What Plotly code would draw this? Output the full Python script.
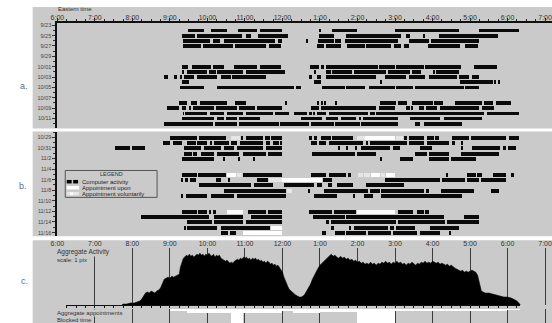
import plotly.graph_objects as go

W, H = 552, 323
GRAY = "#cacaca"
FONT = "Liberation Sans, Arial, sans-serif"

# ---------------- data ----------------
hour_ticks = [6, 7, 8, 9, 10, 11, 12, 13, 14, 15, 16, 17, 18, 19]
hour_labels = ["6:00", "7:00", "8:00", "9:00", "10:00", "11:00", "12:00",
               "1:00", "2:00", "3:00", "4:00", "5:00", "6:00", "7:00"]

a_dates = ["9/23", "9/25", "9/27", "9/29", "10/01", "10/03", "10/05", "10/07", "10/09", "10/11"]
a_date_rows = [-1, 1, 3, 5, 7, 9, 11, 13, 15, 17]
b_dates = ["10/29", "10/31", "11/2", "11/4", "11/6", "11/8", "11/10", "11/12", "11/14", "11/16"]
b_date_rows = [0, 2, 4, 6, 8, 10, 12, 14, 16, 18]

# panel a: computer activity sessions per day row (start hour, end hour)
a_rows = [0, 1, 2, 3, 7, 8, 9, 10, 11, 14, 15, 16, 17, 18]
a_bars = [
    [(9.50, 9.92), (10.10, 10.53), (10.82, 11.32), (11.42, 12.00), (13.00, 13.04), (13.32, 14.00), (15.00, 16.71), (17.26, 18.32)],
    [(9.32, 9.68), (9.72, 10.92), (11.03, 11.18), (11.37, 12.16), (12.97, 13.39), (13.71, 15.16), (15.29, 15.42), (15.78, 15.82), (16.18, 17.76)],
    [(9.37, 10.08), (10.16, 10.34), (10.45, 11.82), (11.88, 12.00), (12.65, 12.69), (12.95, 13.37), (13.42, 13.58), (13.68, 15.08), (15.37, 15.92), (15.97, 17.24)],
    [(9.37, 9.84), (9.89, 10.68), (10.74, 11.58), (11.66, 11.97), (12.92, 13.11), (13.18, 13.58), (13.74, 14.21), (14.24, 14.89), (14.97, 15.16), (15.24, 15.39), (15.89, 16.74), (16.87, 17.21)],
    [(9.32, 9.50), (9.61, 10.11), (10.16, 10.45), (10.71, 11.32), (11.42, 11.97), (12.74, 12.97), (13.03, 13.11), (13.18, 14.55), (14.58, 15.00), (15.03, 15.79), (15.82, 16.76), (17.11, 17.74)],
    [(9.34, 9.37), (9.47, 10.00), (10.05, 10.24), (10.26, 10.97), (11.03, 12.08), (12.87, 12.90), (13.16, 13.29), (13.34, 13.87), (13.92, 14.76), (14.82, 15.42), (15.47, 15.71), (16.03, 16.06), (16.10, 16.71)],
    [(8.84, 8.95), (9.13, 9.21), (9.29, 9.34), (9.39, 9.66), (9.74, 10.26), (10.37, 10.63), (10.66, 11.58), (12.71, 12.79), (12.92, 13.03), (13.18, 14.50), (14.74, 15.29), (15.37, 15.82), (15.92, 16.66), (16.71, 16.97), (17.05, 17.26)],
    [(9.34, 9.53), (12.84, 13.03), (14.62, 14.65), (16.74, 17.63), (17.66, 17.71), (17.76, 17.79)],
    [(9.29, 9.92), (10.26, 11.24), (11.26, 12.32), (12.37, 12.50), (13.05, 13.68), (13.71, 14.21), (14.32, 15.00), (15.03, 15.50), (15.55, 16.84), (16.87, 17.26)],
    [(9.24, 9.47), (9.58, 9.74), (9.82, 10.53), (10.74, 11.03), (12.10, 12.13), (12.95, 12.98), (13.05, 13.08), (13.12, 13.15), (13.42, 13.45), (14.61, 15.03), (15.08, 15.32), (15.47, 16.03), (16.05, 16.29), (16.61, 17.34), (17.39, 17.63), (17.71, 18.10)],
    [(8.92, 9.26), (9.32, 9.45), (9.53, 9.56), (9.63, 10.18), (10.24, 10.79), (10.84, 11.29), (11.34, 12.00), (12.76, 12.97), (13.03, 13.45), (13.47, 14.50), (14.58, 15.00), (15.29, 15.42), (15.45, 15.48), (15.66, 15.79), (15.84, 16.13), (16.21, 17.24), (17.32, 17.66)],
    [(9.36, 9.38), (9.40, 10.00), (10.08, 10.45), (10.53, 10.97), (11.03, 11.16), (11.18, 11.76), (11.82, 12.18), (12.32, 12.66), (12.71, 12.79), (12.84, 12.87), (12.92, 13.18), (13.24, 14.29), (14.34, 14.47), (14.50, 17.37), (17.45, 18.32)],
    [(9.34, 10.18), (10.26, 10.45), (10.50, 10.79), (10.84, 11.42), (12.50, 13.05), (13.16, 13.50), (13.58, 13.97), (14.05, 14.10), (14.16, 15.08), (15.40, 16.21), (16.32, 17.32)],
    [(8.84, 10.16), (10.21, 10.79), (10.84, 11.92), (11.95, 12.71), (12.76, 13.37), (13.42, 14.08), (14.11, 15.08), (15.53, 15.68), (15.79, 16.79)],
]

# panel b: sessions with kind  c = computer activity, u = appointment upon, v = appointment voluntarily
b_rows = [0, 1, 2, 3, 4, 7, 8, 9, 10, 11, 14, 15, 16, 17, 18]
b_bars = [
    [(9.00, 9.74, "c"), (9.79, 10.50, "c"), (10.63, 10.87, "v"), (10.92, 10.97, "c"), (11.03, 11.50, "c"), (11.55, 11.68, "c"), (11.71, 12.00, "c"), (12.71, 12.79, "c"), (12.84, 12.92, "c"), (13.03, 13.29, "c"), (13.34, 13.89, "c"), (14.00, 14.21, "v"), (14.21, 15.00, "u"), (15.03, 15.21, "v"), (15.26, 15.34, "c"), (15.39, 15.79, "c"), (15.87, 16.05, "c"), (16.08, 16.18, "c"), (16.53, 16.97, "c"), (17.03, 17.97, "c"), (18.05, 18.32, "c")],
    [(8.82, 9.00, "c"), (9.08, 9.34, "c"), (9.47, 9.71, "c"), (9.74, 10.00, "c"), (10.08, 10.13, "c"), (10.18, 10.58, "c"), (10.63, 10.79, "c"), (10.89, 11.50, "c"), (11.58, 11.68, "c"), (11.76, 11.92, "c"), (11.95, 12.00, "c"), (12.76, 12.92, "c"), (12.97, 13.18, "c"), (13.26, 14.16, "c"), (14.24, 14.29, "c"), (14.34, 15.34, "c"), (15.39, 15.79, "c"), (15.87, 16.45, "c"), (16.53, 16.60, "c"), (16.78, 16.81, "c")],
    [(7.55, 7.95, "c"), (8.00, 8.34, "c"), (9.39, 9.84, "c"), (9.92, 10.37, "c"), (10.45, 10.71, "c"), (10.79, 11.50, "c"), (11.58, 12.00, "c"), (13.50, 13.53, "c"), (13.71, 13.74, "c"), (13.95, 13.98, "c"), (14.10, 14.87, "c"), (14.95, 15.13, "c"), (15.68, 16.00, "c"), (16.79, 16.82, "c"), (17.05, 17.82, "c"), (17.89, 17.97, "c"), (18.03, 18.24, "c")],
    [(9.39, 9.61, "c"), (9.63, 9.74, "c"), (9.84, 10.18, "c"), (10.26, 10.84, "c"), (10.97, 11.58, "c"), (11.63, 12.00, "c"), (12.79, 13.95, "c"), (14.00, 14.50, "c"), (15.55, 15.87, "c"), (15.92, 16.45, "c"), (16.76, 17.79, "c")],
    [(9.34, 10.18, "c"), (10.45, 10.48, "c"), (10.84, 10.87, "c"), (11.24, 11.27, "c"), (14.63, 14.66, "c"), (15.13, 15.50, "c"), (15.92, 16.45, "c"), (16.50, 17.18, "c")],
    [(9.32, 9.74, "c"), (9.76, 10.50, "c"), (10.53, 10.76, "u"), (10.79, 10.92, "v"), (10.97, 12.00, "c"), (12.76, 13.16, "c"), (13.24, 13.71, "c"), (13.76, 13.84, "c"), (14.03, 14.16, "v"), (14.18, 14.34, "v"), (14.37, 14.61, "u"), (14.63, 14.74, "v"), (14.76, 15.00, "u"), (16.39, 16.42, "c"), (16.92, 17.18, "c"), (17.20, 17.32, "c"), (17.63, 17.97, "c"), (18.10, 18.18, "c")],
    [(9.32, 9.37, "c"), (9.42, 9.50, "c"), (9.55, 9.71, "c"), (10.24, 10.37, "c"), (10.58, 10.61, "c"), (11.32, 11.63, "c"), (11.66, 12.00, "v"), (12.00, 13.05, "u"), (13.08, 13.34, "c"), (14.74, 16.21, "c"), (16.26, 16.87, "c"), (16.92, 17.24, "c"), (17.29, 17.97, "c")],
    [(9.79, 11.18, "c"), (11.24, 11.76, "c"), (12.05, 12.84, "c"), (12.92, 13.05, "c"), (13.21, 13.34, "c"), (13.47, 13.89, "c"), (14.24, 15.26, "c")],
    [(10.45, 11.16, "c"), (11.18, 12.10, "c"), (12.13, 12.26, "v"), (12.71, 12.74, "c"), (13.11, 14.29, "c"), (14.34, 14.61, "c"), (14.63, 15.79, "c"), (15.84, 15.92, "c"), (16.24, 17.11, "c"), (17.58, 17.79, "c")],
    [(9.32, 9.35, "c"), (9.45, 10.00, "c"), (10.10, 10.71, "c"), (10.79, 12.10, "c"), (12.84, 13.45, "c"), (13.91, 13.94, "c"), (14.18, 14.42, "c"), (14.63, 16.79, "c")],
    [(9.32, 9.74, "c"), (9.76, 10.00, "c"), (10.05, 10.11, "c"), (10.16, 10.24, "c"), (10.53, 10.97, "u"), (11.10, 11.58, "c"), (11.63, 12.00, "c"), (12.71, 13.32, "c"), (13.37, 13.97, "c"), (14.00, 15.00, "u"), (15.08, 15.50, "c"), (15.60, 15.79, "c"), (15.82, 15.92, "c")],
    [(8.24, 10.05, "c"), (10.18, 10.97, "c"), (11.16, 12.00, "c"), (12.82, 13.68, "c"), (13.71, 16.32, "c"), (16.84, 17.26, "c")],
    [(9.47, 10.13, "c"), (10.18, 10.97, "c"), (11.05, 12.00, "c"), (13.16, 13.24, "c"), (13.29, 15.03, "c"), (15.08, 16.34, "c"), (16.39, 17.24, "c")],
    [(9.39, 9.42, "c"), (9.47, 10.26, "c"), (10.37, 11.16, "c"), (11.18, 11.68, "c"), (11.71, 12.00, "u"), (13.30, 13.37, "c"), (13.80, 13.83, "c"), (13.92, 14.82, "c"), (14.87, 14.97, "c"), (15.03, 15.53, "c"), (15.95, 16.71, "c")],
    [(10.37, 10.55, "c"), (10.60, 10.76, "c"), (10.97, 12.00, "u"), (13.05, 13.16, "c"), (13.42, 13.68, "c"), (13.71, 14.24, "c"), (14.29, 14.89, "c"), (14.95, 15.60, "c"), (15.68, 16.21, "c"), (16.45, 16.48, "c")],
]

# panel c: aggregate activity (pixels of height) over the day
activity_time = [7.72, 7.75, 7.85, 7.95, 8.05, 8.15, 8.20, 8.25, 8.30, 8.35, 8.40, 8.45, 8.50, 8.55, 8.60, 8.65, 8.70, 8.75, 8.80, 8.85,
                 8.90, 8.95, 9.00, 9.05, 9.10, 9.15, 9.20, 9.25, 9.28, 9.32, 9.36, 9.39, 9.44, 9.48, 9.52, 9.56, 9.60, 9.64, 9.68, 9.72,
                 9.76, 9.80, 9.84, 9.88, 9.92, 9.96, 10.00, 10.04, 10.08, 10.12, 10.16, 10.20, 10.24, 10.28, 10.32, 10.36, 10.40, 10.44, 10.48, 10.52,
                 10.56, 10.60, 10.64, 10.68, 10.72, 10.76, 10.80, 10.84, 10.88, 10.92, 10.96, 11.00, 11.04, 11.08, 11.12, 11.16, 11.20, 11.24, 11.28, 11.32,
                 11.36, 11.40, 11.44, 11.48, 11.52, 11.56, 11.60, 11.64, 11.68, 11.72, 11.76, 11.80, 11.84, 11.88, 11.92, 11.96, 12.00, 12.04, 12.08, 12.12,
                 12.16, 12.20, 12.25, 12.30, 12.35, 12.40, 12.45, 12.50, 12.55, 12.60, 12.65, 12.70, 12.75, 12.80, 12.85, 12.90, 12.95, 13.00, 13.05, 13.10,
                 13.15, 13.20, 13.25, 13.30, 13.35, 13.40, 13.45, 13.50, 13.55, 13.60, 13.65, 13.70, 13.75, 13.80, 13.85, 13.90, 13.95, 14.00, 14.05, 14.10,
                 14.15, 14.20, 14.25, 14.30, 14.35, 14.40, 14.45, 14.50, 14.55, 14.60, 14.65, 14.70, 14.75, 14.80, 14.85, 14.90, 14.95, 15.00, 15.05, 15.10,
                 15.15, 15.20, 15.25, 15.30, 15.35, 15.40, 15.45, 15.50, 15.55, 15.60, 15.65, 15.70, 15.75, 15.80, 15.85, 15.90, 15.95, 16.00, 16.05, 16.10,
                 16.15, 16.20, 16.25, 16.30, 16.35, 16.40, 16.45, 16.50, 16.55, 16.60, 16.65, 16.70, 16.75, 16.80, 16.85, 16.90, 16.95, 17.00, 17.05, 17.10,
                 17.15, 17.20, 17.23, 17.26, 17.30, 17.35, 17.40, 17.50, 17.60, 17.70, 17.80, 17.90, 18.00, 18.10, 18.20, 18.25, 18.30, 18.34]
activity_value = [0, 1, 1, 2, 2, 3, 4, 6, 9, 12, 13, 12, 14, 13, 12, 14, 15, 17, 22, 26,
                  27, 28, 27, 29, 28, 29, 30, 31, 38, 44, 47, 48, 50, 49, 51, 49, 50, 48, 50, 51,
                  50, 52, 50, 51, 49, 51, 50, 52, 50, 49, 51, 48, 50, 49, 50, 47, 46, 45, 44, 45,
                  43, 42, 43, 42, 44, 45, 46, 45, 47, 46, 48, 47, 48, 46, 47, 45, 47, 46, 47, 45,
                  46, 44, 45, 43, 44, 42, 44, 43, 41, 42, 40, 41, 39, 40, 38, 36, 33, 28, 24, 20,
                  17, 15, 13, 11, 10, 9, 8, 8, 9, 11, 14, 17, 21, 26, 30, 34, 37, 40, 42, 44,
                  46, 48, 49, 51, 49, 50, 48, 47, 49, 47, 48, 46, 47, 45, 46, 44, 45, 43, 44, 42,
                  43, 41, 42, 41, 43, 41, 42, 40, 42, 41, 43, 42, 44, 42, 43, 41, 43, 42, 44, 42,
                  43, 41, 42, 40, 42, 41, 43, 41, 40, 42, 41, 43, 42, 44, 42, 43, 42, 44, 43, 42,
                  43, 41, 42, 41, 40, 41, 39, 40, 38, 37, 36, 35, 34, 35, 33, 34, 33, 34, 35, 34,
                  33, 30, 25, 18, 14, 13, 12, 12, 11, 10, 9, 8, 8, 7, 5, 4, 2, 0]

# aggregate appointments (depth of blocked band, pixels)
appt_start = [9.00, 9.47, 10.63, 10.97, 12.00, 12.30, 13.00, 14.00, 15.00, 18.00]
appt_end = [9.47, 10.63, 10.97, 12.00, 12.30, 13.00, 14.00, 15.00, 18.00, 18.35]
appt_depth = [2, 4, 14, 4, 2, 4, 3, 14, 2, 1]

# ---------------- helpers (layout only) ----------------
def px(x):
    return x / W


def py(y):
    return 1 - y / H


X0 = 51
PPH = 38.0
XRANGE = [6, 6 + (W - X0) / PPH]
BAR_COLORS = {"c": "#0a0a0a", "u": "#ffffff", "v": "#e6e6e6"}

fig = go.Figure()


def add_bars(starts, ends, rows, color, xa, ya):
    fig.add_trace(go.Bar(
        orientation="h", base=starts, x=[e - s for s, e in zip(starts, ends)], y=rows,
        width=0.72, marker=dict(color=color, line=dict(width=0)),
        xaxis=xa, yaxis=ya, showlegend=False, hoverinfo="skip"))


# panel a bars
sa, ea, ra = [], [], []
for r, segs in zip(a_rows, a_bars):
    for s, e in segs:
        sa.append(s); ea.append(e); ra.append(r)
add_bars(sa, ea, ra, BAR_COLORS["c"], "x", "y")

# panel b bars
for kind in ["c", "u", "v"]:
    sb, eb, rb = [], [], []
    for r, segs in zip(b_rows, b_bars):
        for s, e, k in segs:
            if k == kind:
                sb.append(s); eb.append(e); rb.append(r)
    add_bars(sb, eb, rb, BAR_COLORS[kind], "x2", "y2")

# hour-label axis host for panel a (thin strip just above the panel)
fig.add_trace(go.Scatter(x=[None], y=[None], mode="lines", xaxis="x6", yaxis="y5",
                         showlegend=False, hoverinfo="skip"))

# panel c aggregate activity
fig.add_trace(go.Scatter(x=activity_time, y=activity_value, mode="lines", fill="tozeroy",
                         fillcolor="#000000", line=dict(color="#000000", width=0.6),
                         xaxis="x3", yaxis="y3", showlegend=False, hoverinfo="skip"))
# ruler axis host
fig.add_trace(go.Scatter(x=[None], y=[None], mode="lines", xaxis="x4", yaxis="y3",
                         showlegend=False, hoverinfo="skip"))
# appointments strip
fig.add_trace(go.Bar(x=[(s + e) / 2 for s, e in zip(appt_start, appt_end)],
                     width=[e - s for s, e in zip(appt_start, appt_end)],
                     y=appt_depth, base=0, marker=dict(color="#ffffff", line=dict(width=0)),
                     xaxis="x5", yaxis="y4", showlegend=False, hoverinfo="skip"))

tickfont = dict(family=FONT, size=7, color="#333333")
datefont = dict(family=FONT, size=5.5, color="#444444")

common_x = dict(range=XRANGE, domain=[px(X0), 1], showgrid=False, zeroline=False)
ydate = dict(showline=True, linecolor="#111111", linewidth=2, ticks="outside", ticklen=3,
             tickcolor="#333333", tickwidth=1, showgrid=False, zeroline=False, tickfont=datefont,
             minor=dict(tickmode="linear", tick0=0, dtick=1, ticks="outside", ticklen=2, tickcolor="#333333"))

layout_axes = dict(
    xaxis=dict(**common_x, anchor="y", side="top", tickmode="array", tickvals=hour_ticks,
               showticklabels=False, showline=True, linecolor="#111111",
               linewidth=1.5, ticks="outside", ticklen=3, tickcolor="#222222",
               minor=dict(tickmode="linear", tick0=6, dtick=0.25, ticks="outside", ticklen=2,
                          tickcolor="#222222")),
    xaxis6=dict(range=XRANGE, domain=[px(X0), 1], zeroline=False, anchor="y5", side="top",
                tickmode="array", tickvals=hour_ticks, ticktext=hour_labels, tickfont=tickfont,
                showline=False, ticks="", ticklabeloverflow="allow",
                showgrid=True, gridcolor="rgba(0,0,0,0)"),
    yaxis5=dict(domain=[py(21.5), py(21)], range=[0, 1], anchor="x6", visible=False),
    yaxis=dict(**ydate, domain=[py(127), py(22)], range=[18.75, -1.44], anchor="x",
               tickmode="array", tickvals=a_date_rows, ticktext=a_dates),
    xaxis2=dict(**common_x, anchor="y2", visible=False),
    yaxis2=dict(**ydate, domain=[py(236), py(131)], range=[18.7, -1.08], anchor="x2",
                tickmode="array", tickvals=b_date_rows, ticktext=b_dates),
    xaxis3=dict(range=XRANGE, domain=[px(X0), 1], anchor="y3", side="top", tickmode="array",
                tickvals=hour_ticks, ticktext=hour_labels, tickfont=tickfont, showline=False,
                ticks="", showgrid=True, gridcolor="#3c3c3c", gridwidth=1, zeroline=False,
                ticklabeloverflow="allow"),
    yaxis3=dict(domain=[py(305), py(248)], range=[0, 57], anchor="x3", visible=False),
    xaxis4=dict(range=[6 + (60 - X0) / PPH, 6 + (520 - X0) / PPH], domain=[px(60), px(520)],
                anchor="y3", side="bottom", showline=True, linecolor="#111111", linewidth=1,
                ticks="outside", ticklen=2, tickcolor="#111111", tickmode="linear", tick0=6,
                dtick=0.25, showticklabels=False, showgrid=False, zeroline=False),
    xaxis5=dict(range=XRANGE, domain=[px(X0), 1], anchor="y4", showticklabels=False, ticks="",
                showline=False, showgrid=True, gridcolor="#3c3c3c", gridwidth=1, zeroline=False,
                tickmode="array", tickvals=hour_ticks),
    yaxis4=dict(domain=[0, py(309)], range=[14, 0], anchor="x5", visible=False),
)

shapes = [
    dict(type="rect", xref="paper", yref="paper", x0=px(26), x1=1, y0=py(128), y1=py(6),
         fillcolor=GRAY, line=dict(width=0), layer="below"),
    dict(type="rect", xref="paper", yref="paper", x0=px(26), x1=1, y0=py(236), y1=py(131),
         fillcolor=GRAY, line=dict(width=0), layer="below"),
    dict(type="rect", xref="paper", yref="paper", x0=px(26), x1=1, y0=0, y1=py(240),
         fillcolor=GRAY, line=dict(width=0), layer="below"),
    # legend box and symbols
    dict(type="rect", xref="paper", yref="paper", x0=px(59), x1=px(152), y0=py(197), y1=py(170),
         fillcolor=GRAY, line=dict(color="#555555", width=1), layer="above"),
    dict(type="rect", xref="paper", yref="paper", x0=px(60.5), x1=px(65.5), y0=py(183), y1=py(179.5),
         fillcolor="#000000", line=dict(width=0), layer="above"),
    dict(type="rect", xref="paper", yref="paper", x0=px(67), x1=px(72), y0=py(183), y1=py(179.5),
         fillcolor="#000000", line=dict(width=0), layer="above"),
    dict(type="rect", xref="paper", yref="paper", x0=px(60.5), x1=px(73), y0=py(189), y1=py(185.5),
         fillcolor="#ffffff", line=dict(width=0), layer="above"),
    dict(type="rect", xref="paper", yref="paper", x0=px(60.5), x1=px(73), y0=py(195), y1=py(191.5),
         fillcolor="#e6e6e6", line=dict(width=0), layer="above"),
    dict(type="rect", xref="paper", yref="paper", x0=px(64), x1=px(67), y0=py(194.5), y1=py(192),
         fillcolor="#ffffff", line=dict(width=0), layer="above"),
]


def ann(text, x, y, size, color="#333333", xanchor="left", bg=None):
    d = dict(text=text, x=px(x), y=py(y), xref="paper", yref="paper", showarrow=False,
             xanchor=xanchor, yanchor="middle", font=dict(family=FONT, size=size, color=color),
             borderpad=0)
    if bg:
        d["bgcolor"] = bg
    return d


annotations = [
    ann("Eastern time", 51, 8.5, 6),
    ann("a.", 12, 85, 9, color="#5a6a88"),
    ann("b.", 11, 186, 9, color="#5a6a88"),
    ann("c.", 13, 281, 9, color="#5a6a88"),
    ann("LEGEND", 105.5, 173.5, 5.5, color="#333333", xanchor="center"),
    ann("Computer activity", 75, 181.3, 6, color="#222222"),
    ann("Appointment upon", 75, 187.3, 6, color="#222222"),
    ann("Appointment voluntarily", 75, 193.3, 6, color="#222222"),
    ann("Aggregate Activity", 50, 252, 6.5, color="#333333", bg=GRAY),
    ann("scale: 1 pix", 50, 259.5, 6, color="#333333", bg=GRAY),
    ann("Aggregate appointments", 50, 312.5, 6, color="#333333", bg=GRAY),
    ann("Blocked time", 50, 319.5, 6, color="#333333", bg=GRAY),
]

fig.update_layout(
    width=W, height=H, margin=dict(l=0, r=0, t=0, b=0),
    paper_bgcolor="#ffffff", plot_bgcolor="rgba(0,0,0,0)",
    barmode="overlay", bargap=0, showlegend=False,
    font=dict(family=FONT),
    shapes=shapes, annotations=annotations,
    **layout_axes,
)

fig.write_html("out.html", config={"displayModeBar": False},
               post_script="document.body.style.margin='0px';")
